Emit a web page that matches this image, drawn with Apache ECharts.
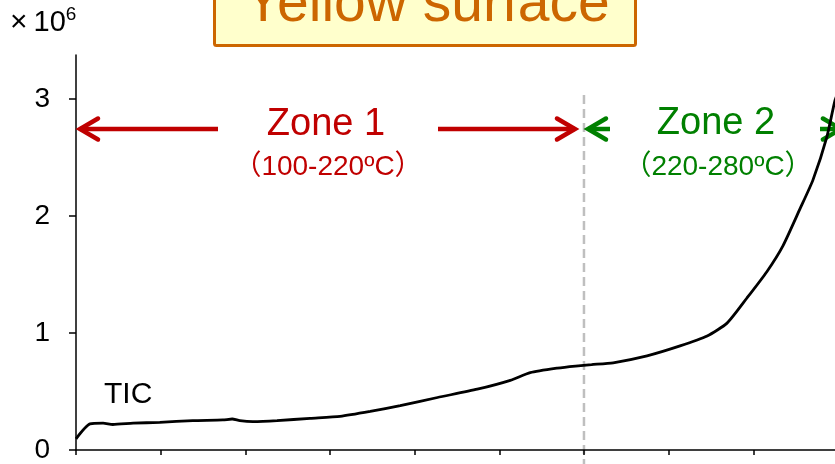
<!DOCTYPE html>
<html>
<head>
<meta charset="utf-8">
<script src="https://cdn.jsdelivr.net/npm/echarts@6.0.0/dist/echarts.min.js"></script>
<style>
    html, body { margin: 0; padding: 0; background: #fff; }
    #main { width: 835px; height: 464px; }
</style>
</head>
<body>
<div id="main"></div>
<script>
// temperature (ºC) vs TIC (x10^6)
var temps = [100, 103.3, 106.4, 108.7, 113.5, 119.8, 127.6, 134.7, 136.9, 138.7, 141.8, 147.5, 155.3, 162.4,
    169.5, 176.6, 185.4, 194.8, 202.6, 207.3, 213.7, 218, 221.8, 226.9, 234.9, 242.7, 249.1, 253.8,
    258.5, 263.2, 267, 271, 274.1, 277.4, 279.3, 280.5];
var tic = [0.096, 0.223, 0.229, 0.218, 0.229, 0.237, 0.251, 0.257, 0.265, 0.251, 0.243, 0.251, 0.271, 0.288,
    0.33, 0.379, 0.449, 0.52, 0.596, 0.661, 0.70, 0.718, 0.73, 0.746, 0.805, 0.89, 0.975, 1.085,
    1.30, 1.525, 1.746, 2.06, 2.31, 2.68, 2.99, 3.10];
var yTicks = [0, 1, 2, 3];
var xTicks = [100, 120, 140, 160, 180, 200, 220, 240, 260];
var zoneBounds = [100, 220, 280];

var FONT = '"Liberation Sans", Arial, "Noto Sans CJK SC", sans-serif';
var RED = '#C00000';
var GREEN = '#008000';
var ORANGE = '#CC6600';

function buildData() {
    var d = [];
    for (var i = 0; i < temps.length; i++) {
        d.push([temps[i], tic[i]]);
    }
    return d;
}

// chevron arrow, dir = -1 points left, 1 points right
function arrow(x1, x2, y, dir, color) {
    var tip = dir < 0 ? Math.min(x1, x2) : Math.max(x1, x2);
    var back = tip - dir * 18;
    return [{
        type: 'line', z: 1,
        shape: { x1: x1, y1: y, x2: x2, y2: y },
        style: { stroke: color, lineWidth: 4.5 }
    }, {
        type: 'polyline', z: 1,
        shape: { points: [[back, y - 10.5], [tip, y], [back, y + 10.5]] },
        style: { stroke: color, lineWidth: 4.5, fill: null, lineCap: 'round', lineJoin: 'miter' }
    }];
}

function label(text, x, y, size, color, align) {
    return {
        type: 'text', z: 5,
        x: x, y: y,
        style: {
            text: text, fill: color, font: size + 'px ' + FONT,
            align: align || 'center', verticalAlign: 'middle'
        }
    };
}

var chart = echarts.init(document.getElementById('main'));

var option = {
    animation: false,
    backgroundColor: '#fff',
    grid: { left: 76, right: 0, top: 55, bottom: 11.5 },
    xAxis: {
        type: 'value',
        min: 100,
        max: 279.3,
        interval: 20,
        axisLine: { show: true, lineStyle: { color: '#000', width: 1.5 } },
        axisTick: { show: true, length: 5, customValues: xTicks, lineStyle: { color: '#000', width: 1.5 } },
        axisLabel: { show: false },
        splitLine: { show: false }
    },
    yAxis: {
        type: 'value',
        min: 0,
        max: 3.378,
        interval: 1,
        axisLine: { show: true, lineStyle: { color: '#000', width: 1.5 } },
        axisTick: { show: true, length: 7, customValues: yTicks, lineStyle: { color: '#000', width: 1.5 } },
        axisLabel: {
            customValues: yTicks, margin: 26,
            color: '#000', fontSize: 28, fontFamily: FONT
        },
        splitLine: { show: false }
    },
    series: [{
        type: 'line',
        data: buildData(),
        showSymbol: false,
        smooth: 0.2,
        z: 3,
        lineStyle: { color: '#000', width: 2.8 }
    }]
};
chart.setOption(option);

// annotations
var x220 = chart.convertToPixel({ xAxisIndex: 0 }, zoneBounds[1]);
var g = [];

g.push({
    type: 'line', z: 0,
    shape: { x1: x220, y1: 95, x2: x220, y2: 464 },
    style: { stroke: '#BFBFBF', lineWidth: 2.5, lineDash: [9, 5] }
});

// title box
g.push({
    type: 'rect', z: 4,
    shape: { x: 214.5, y: -10, width: 421, height: 55.5, r: 2 },
    style: { fill: '#FFFFCC', stroke: ORANGE, lineWidth: 3 }
});
g.push(label('Yellow surface', 427, 5, 57, ORANGE));

// y axis unit
g.push({
    type: 'text', z: 5, x: 10, y: 23,
    style: {
        text: '{a|×}{b|10}{c|6}',
        verticalAlign: 'middle',
        rich: {
            a: { fontSize: 30, fontFamily: FONT, fill: '#000', padding: [0, 6, 0, 0] },
            b: { fontSize: 29, fontFamily: FONT, fill: '#000' },
            c: { fontSize: 19, fontFamily: FONT, fill: '#000', verticalAlign: 'top', padding: [0, 0, 16, 0] }
        }
    }
});

// zone 1
g = g.concat(arrow(80, 218, 129, -1, RED));
g = g.concat(arrow(438, x220 - 9, 129, 1, RED));
g.push(label('Zone 1', 326, 125, 38, RED));
g.push(label('（100-220ºC）', 328, 167, 28, RED));

// zone 2
g = g.concat(arrow(x220 + 4, 610, 129, -1, GREEN));
g = g.concat(arrow(820, 841, 129, 1, GREEN));
g.push(label('Zone 2', 716, 124, 38, GREEN));
g.push(label('（220-280ºC）', 718, 167, 28, GREEN));

g.push(label('TIC', 104, 395, 30, '#000', 'left'));

chart.setOption({ graphic: { elements: g } });
</script>
</body>
</html>
